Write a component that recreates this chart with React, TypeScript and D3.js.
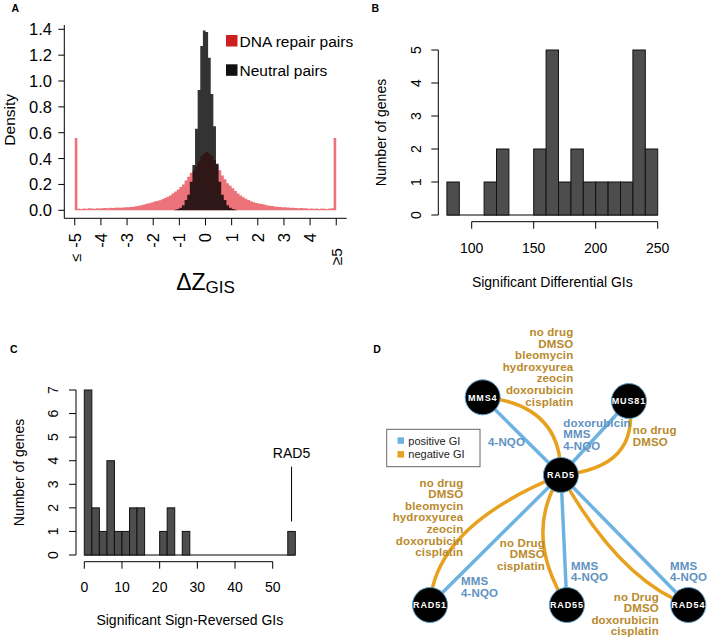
import React from 'react';
import * as d3 from 'd3';

const FONT = '"Liberation Sans", Arial, Helvetica, sans-serif';

// ---------- Panel A data ----------
const repairBinStart = -5;
const binWidthA = 0.1;
const repairDensity = [
  0.56,
  0.012, 0.01, 0.014, 0.012, 0.015, 0.013, 0.012, 0.016, 0.014,
  0.015, 0.018, 0.015, 0.02, 0.018, 0.02, 0.022, 0.02, 0.022, 0.023,
  0.024, 0.026, 0.028, 0.032, 0.036, 0.04, 0.045, 0.05, 0.055, 0.06,
  0.068, 0.072, 0.078, 0.085, 0.095, 0.105, 0.115, 0.13, 0.145, 0.16,
  0.18, 0.2, 0.23, 0.26, 0.29, 0.31, 0.34, 0.38, 0.42, 0.44,
  0.45, 0.44, 0.42, 0.39, 0.35, 0.31, 0.27, 0.24, 0.21, 0.19,
  0.17, 0.15, 0.13, 0.115, 0.1, 0.09, 0.08, 0.07, 0.063, 0.057,
  0.053, 0.048, 0.044, 0.04, 0.036, 0.033, 0.03, 0.028, 0.026, 0.024,
  0.023, 0.022, 0.02, 0.02, 0.018, 0.015, 0.018, 0.015, 0.015, 0.012,
  0.014, 0.012, 0.013, 0.011, 0.014, 0.012, 0.01, 0.013, 0.015,
  0.56,
];
const neutralBinStart = -1.2;
const neutralDensity = [
  0.005, 0.01, 0.02, 0.04, 0.08, 0.12, 0.22, 0.35, 0.63, 0.93, 1.27, 1.39,
  1.38, 1.18, 0.9, 0.65, 0.36, 0.22, 0.12, 0.08, 0.04, 0.02, 0.01, 0.005,
];
const aYTicks = [0, 0.2, 0.4, 0.6, 0.8, 1.0, 1.2, 1.4];
const aXTicks = [-5, -4, -3, -2, -1, 0, 1, 2, 3, 4, 5];
const aXTickLabels = ['-5', '-4', '-3', '-2', '-1', '0', '1', '2', '3', '4', ''];
const aLegend = ['DNA repair pairs', 'Neutral pairs'];

// ---------- Panel B data ----------
const bBinStart = 80;
const bBinWidth = 10;
const bCounts = [1, 0, 0, 1, 2, 0, 0, 2, 5, 1, 2, 1, 1, 1, 1, 5, 2];
const bXTicks = [100, 150, 200, 250];
const bYTicks = [0, 1, 2, 3, 4, 5];

// ---------- Panel C data ----------
const cBinStart = 0;
const cBinWidth = 2;
const cCounts = [7, 2, 1, 4, 1, 1, 2, 2, 0, 0, 1, 2, 0, 1, 0, 0, 0, 0, 0, 0, 0, 0, 0, 0, 0, 0, 0, 1];
const cXTicks = [0, 10, 20, 30, 40, 50];
const cYTicks = [0, 1, 2, 3, 4, 5, 6, 7];
const cHighlight = { label: 'RAD5', value: 55 };

// ---------- Panel D data ----------
const dNodes = [
  { id: 'MMS4', x: 20.4, y: 0 },
  { id: 'MUS81', x: 77, y: 1.8 },
  { id: 'RAD5', x: 50.7, y: 37.4 },
  { id: 'RAD51', x: 0, y: 100 },
  { id: 'RAD55', x: 53, y: 100 },
  { id: 'RAD54', x: 100, y: 100 },
];
const dPositiveEdges = [
  ['MMS4', 'RAD5'],
  ['MUS81', 'RAD5'],
  ['RAD5', 'RAD51'],
  ['RAD5', 'RAD55'],
  ['RAD5', 'RAD54'],
];
const dNegativeEdges = [
  { s: 'MMS4', t: 'RAD5', along: 0.048, bend: -0.46 },
  { s: 'MUS81', t: 'RAD5', along: -0.09, bend: -0.54 },
  { s: 'RAD5', t: 'RAD51', along: 0.181, bend: 0.287 },
  { s: 'RAD5', t: 'RAD55', along: -0.061, bend: 0.32 },
  { s: 'RAD5', t: 'RAD54', along: 0.136, bend: 0.175 },
];
const dLabels = [
  { type: 'neg', x: 55.5, y: -29.5, anchor: 'end', lines: ['no drug', 'DMSO', 'bleomycin', 'hydroxyurea', 'zeocin', 'doxorubicin', 'cisplatin'] },
  { type: 'pos', x: 36.8, y: 23.4, anchor: 'end', lines: ['4-NQO'] },
  { type: 'pos', x: 51.6, y: 14.2, anchor: 'start', lines: ['doxorubicin', 'MMS', '4-NQO'] },
  { type: 'neg', x: 78.5, y: 17.8, anchor: 'start', lines: ['no drug', 'DMSO'] },
  { type: 'neg', x: 12.9, y: 43.0, anchor: 'end', lines: ['no drug', 'DMSO', 'bleomycin', 'hydroxyurea', 'zeocin', 'doxorubicin', 'cisplatin'] },
  { type: 'pos', x: 12.0, y: 90.4, anchor: 'start', lines: ['MMS', '4-NQO'] },
  { type: 'neg', x: 44.5, y: 71.9, anchor: 'end', lines: ['no Drug', 'DMSO', 'cisplatin'] },
  { type: 'pos', x: 54.6, y: 83.1, anchor: 'start', lines: ['MMS', '4-NQO'] },
  { type: 'pos', x: 92.9, y: 83.1, anchor: 'start', lines: ['MMS', '4-NQO'] },
  { type: 'neg', x: 88.6, y: 97.9, anchor: 'end', lines: ['no Drug', 'DMSO', 'doxorubicin', 'cisplatin'] },
];
const dLegend = [
  { type: 'pos', label: 'positive GI' },
  { type: 'neg', label: 'negative GI' },
];

const BLUE = '#6db3e2';
const ORANGE = '#e8a11f';
const BLUE_TEXT = '#5f92c2';
const ORANGE_TEXT = '#b98a2c';

function stepPath(start: number, width: number, vals: number[], x: any, y: any) {
  const pts: [number, number][] = vals.map((v, i) => [start + i * width, v]);
  pts.push([start + vals.length * width, vals[vals.length - 1]]);
  const area = d3
    .area<[number, number]>()
    .x((d) => x(d[0]))
    .y0(y(0))
    .y1((d) => y(d[1]))
    .curve(d3.curveStepAfter);
  return area(pts) || '';
}

function PanelA() {
  const x = d3.scaleLinear().domain([-5.4, 5.4]).range([64.3, 346.7]);
  const y = d3.scaleLinear().domain([0, 1.4]).range([210.3, 29.3]);
  const boxBottom = 218.3;
  const boxTop = 25;
  const fs = 16.5;
  return (
    <g fontFamily={FONT}>
      <text x={11.5} y={12} fontSize={10.5} fontWeight="bold">A</text>
      <path d={stepPath(repairBinStart, binWidthA, repairDensity, x, y)} fill="rgb(222,22,32)" fillOpacity={0.6} />
      <path d={stepPath(neutralBinStart, binWidthA, neutralDensity, x, y)} fill="#000" fillOpacity={0.8} />
      <path d={`M${x.range()[0]},${boxTop}V${boxBottom}H${x.range()[1]}`} fill="none" stroke="#000" strokeWidth={1} />
      {aYTicks.map((t) => (
        <g key={t}>
          <line x1={x.range()[0] - 6} x2={x.range()[0]} y1={y(t)} y2={y(t)} stroke="#000" />
          <text x={52} y={y(t)} dy="0.36em" textAnchor="end" fontSize={fs}>{t.toFixed(1)}</text>
        </g>
      ))}
      {aXTicks.map((t, i) => (
        <g key={t}>
          <line x1={x(t)} x2={x(t)} y1={boxBottom} y2={boxBottom + 7} stroke="#000" />
          <text transform={`translate(${x(t)},233) rotate(-90)`} dy="0.36em" textAnchor="end" fontSize={fs}>{aXTickLabels[i]}</text>
        </g>
      ))}
      <text transform={`translate(${x(-5) + 1},253.5) rotate(-90)`} dy="0.36em" textAnchor="end" fontSize={fs - 2}>≤</text>
      <text transform={`translate(${x(5)},248) rotate(-90)`} dy="0.36em" textAnchor="end" fontSize={fs - 1}>≥5</text>
      <text transform={`translate(14.5,${y(0.7)}) rotate(-90)`} textAnchor="middle" fontSize={15.5}>Density</text>
      <text x={x(0)} y={290} textAnchor="middle">
        <tspan fontSize={23}>ΔZ</tspan>
        <tspan fontSize={17} dy={3}>GIS</tspan>
      </text>
      {aLegend.map((l, i) => (
        <g key={l}>
          <rect x={226} y={35 + i * 29.3} width={11.5} height={11.5} fill={i === 0 ? '#cc2020' : '#111'} />
          <text x={239.5} y={46.7 + i * 29.3} fontSize={15.5}>{l}</text>
        </g>
      ))}
    </g>
  );
}

function Histogram({ counts, start, width, x, y }: any) {
  return (
    <g>
      <line x1={x(start)} x2={x(start + counts.length * width)} y1={y(0)} y2={y(0)} stroke="#000" />
      {counts.map((c: number, i: number) =>
        c > 0 ? (
          <rect
            key={i}
            x={x(start + i * width)}
            y={y(c)}
            width={x(start + (i + 1) * width) - x(start + i * width)}
            height={y(0) - y(c)}
            fill="#4d4d4d"
            stroke="#111"
            strokeWidth={1}
          />
        ) : null
      )}
    </g>
  );
}

function PanelB() {
  const x = d3.scaleLinear().domain([100, 250]).range([471.7, 657.7]);
  const y = d3.scaleLinear().domain([0, 5]).range([215, 50]);
  const axisX = 438.3;
  const axisY = 221.7;
  const fs = 14;
  return (
    <g fontFamily={FONT}>
      <text x={371.5} y={11.7} fontSize={10.5} fontWeight="bold">B</text>
      <Histogram counts={bCounts} start={bBinStart} width={bBinWidth} x={x} y={y} />
      <line x1={axisX} x2={axisX} y1={y(0)} y2={y(5)} stroke="#000" />
      {bYTicks.map((t) => (
        <g key={t}>
          <line x1={axisX - 7} x2={axisX} y1={y(t)} y2={y(t)} stroke="#000" />
          <text transform={`translate(420.7,${y(t)}) rotate(-90)`} textAnchor="middle" fontSize={fs}>{t}</text>
        </g>
      ))}
      <line x1={x(100)} x2={x(250)} y1={axisY} y2={axisY} stroke="#000" />
      {bXTicks.map((t) => (
        <g key={t}>
          <line x1={x(t)} x2={x(t)} y1={axisY} y2={axisY + 7} stroke="#000" />
          <text x={x(t)} y={253.3} textAnchor="middle" fontSize={fs}>{t}</text>
        </g>
      ))}
      <text x={x(165)} y={286.7} textAnchor="middle" fontSize={fs}>Significant Differential GIs</text>
      <text transform={`translate(386,${y(2.5)}) rotate(-90)`} textAnchor="middle" fontSize={fs}>Number of genes</text>
    </g>
  );
}

function PanelC() {
  const x = d3.scaleLinear().domain([0, 50]).range([84.3, 272.7]);
  const y = d3.scaleLinear().domain([0, 7]).range([555, 390]);
  const axisX = 76;
  const axisY = 561.7;
  const fs = 14;
  return (
    <g fontFamily={FONT}>
      <text x={10} y={353.3} fontSize={10.5} fontWeight="bold">C</text>
      <Histogram counts={cCounts} start={cBinStart} width={cBinWidth} x={x} y={y} />
      <line x1={axisX} x2={axisX} y1={y(0)} y2={y(7)} stroke="#000" />
      {cYTicks.map((t) => (
        <g key={t}>
          <line x1={axisX - 7} x2={axisX} y1={y(t)} y2={y(t)} stroke="#000" />
          <text transform={`translate(58.3,${y(t)}) rotate(-90)`} textAnchor="middle" fontSize={fs}>{t}</text>
        </g>
      ))}
      <line x1={x(0)} x2={x(50)} y1={axisY} y2={axisY} stroke="#000" />
      {cXTicks.map((t) => (
        <g key={t}>
          <line x1={x(t)} x2={x(t)} y1={axisY} y2={axisY + 7} stroke="#000" />
          <text x={x(t)} y={591.7} textAnchor="middle" fontSize={fs}>{t}</text>
        </g>
      ))}
      <text x={x(28)} y={625} textAnchor="middle" fontSize={fs}>Significant Sign-Reversed GIs</text>
      <text transform={`translate(23.5,${y(3.5)}) rotate(-90)`} textAnchor="middle" fontSize={fs}>Number of genes</text>
      <text x={x(cHighlight.value)} y={458.3} textAnchor="middle" fontSize={fs}>{cHighlight.label}</text>
      <line x1={x(cHighlight.value)} x2={x(cHighlight.value)} y1={466.7} y2={y(1) - 10} stroke="#000" />
    </g>
  );
}

function PanelD() {
  const x = d3.scaleLinear().domain([0, 100]).range([430, 688.3]);
  const y = d3.scaleLinear().domain([0, 100]).range([397.3, 605]);
  const pos = new Map(dNodes.map((n) => [n.id, [x(n.x), y(n.y)]]));
  const r = 17.5;
  const lh = 11.6;
  return (
    <g fontFamily={FONT}>
      <text x={373.3} y={353.3} fontSize={10.5} fontWeight="bold">D</text>
      {dNegativeEdges.map((e, i) => {
        const [x0, y0] = pos.get(e.s)!;
        const [x1, y1] = pos.get(e.t)!;
        const dx = x1 - x0;
        const dy = y1 - y0;
        const mx = (x0 + x1) / 2 + e.along * dx - e.bend * dy;
        const my = (y0 + y1) / 2 + e.along * dy + e.bend * dx;
        const p = d3.path();
        p.moveTo(x0, y0);
        p.quadraticCurveTo(mx, my, x1, y1);
        return <path key={'n' + i} d={p.toString()} fill="none" stroke={ORANGE} strokeWidth={3.5} />;
      })}
      {dPositiveEdges.map(([s, t], i) => {
        const [x0, y0] = pos.get(s)!;
        const [x1, y1] = pos.get(t)!;
        return <line key={'p' + i} x1={x0} y1={y0} x2={x1} y2={y1} stroke={BLUE} strokeWidth={3.5} />;
      })}
      {dNodes.map((n) => (
        <g key={n.id}>
          <circle cx={x(n.x)} cy={y(n.y)} r={r} fill="#000" stroke="#5f9ec8" strokeWidth={1} />
          <text x={x(n.x)} y={y(n.y)} dy="0.36em" textAnchor="middle" fill="#fff" fontSize={9} fontWeight="bold" letterSpacing={0.9}>{n.id}</text>
        </g>
      ))}
      {dLabels.map((l, i) => (
        <text key={'l' + i} x={x(l.x)} y={y(l.y)} textAnchor={l.anchor as any} fontSize={11.5} fontWeight="bold" letterSpacing={0.15} fill={l.type === 'pos' ? BLUE_TEXT : ORANGE_TEXT}>
          {l.lines.map((line, j) => (
            <tspan key={j} x={x(l.x)} dy={j === 0 ? 0 : lh}>{line}</tspan>
          ))}
        </text>
      ))}
      <rect x={386.7} y={429.3} width={93.3} height={37.4} fill="#fff" stroke="#666" strokeWidth={1} />
      {dLegend.map((d, i) => (
        <g key={d.label}>
          <rect x={397.5} y={437.3 + i * 13.8} width={6.5} height={6.5} fill={d.type === 'pos' ? BLUE : ORANGE} />
          <text x={408.3} y={445 + i * 13.3} fontSize={11} fill="#222">{d.label}</text>
        </g>
      ))}
    </g>
  );
}

export default function App() {
  return (
    <svg width={709} height={639} style={{ position: 'absolute', left: 0, top: 0, background: '#fff' }}>
      <rect width={709} height={639} fill="#fff" />
      <PanelA />
      <PanelB />
      <PanelC />
      <PanelD />
    </svg>
  );
}
